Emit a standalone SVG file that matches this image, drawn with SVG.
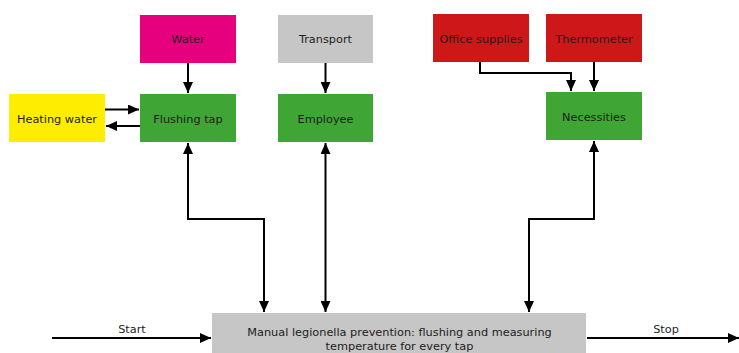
<svg xmlns="http://www.w3.org/2000/svg" width="739" height="353" viewBox="0 0 739 353">
  <defs>
    <marker id="arrow" markerUnits="userSpaceOnUse" markerWidth="12" markerHeight="10" viewBox="0 0 12 10" refX="11" refY="5" orient="auto-start-reverse">
      <path d="M0,0 L11,5 L0,10 Z" fill="#000"/>
    </marker>
    <style>
      .box { stroke: none; }
      .pink { fill: #e6007e; }
      .grey { fill: #c6c6c6; }
      .yellow { fill: #ffed00; }
      .green { fill: #3fa535; }
      .red { fill: #cd1719; }
      .label { font-family: "DejaVu Sans", Verdana, sans-serif; font-size: 11.3px; fill: #1d1d1b; text-anchor: middle; }
      .conn { fill: none; stroke: #000; stroke-width: 2; }
    </style>
  </defs>
  <rect width="739" height="353" fill="#fff"/>

  <g id="water">
    <rect class="box pink" x="140" y="15" width="96" height="48"/>
    <text class="label" x="188" y="43">Water</text>
  </g>
  <g id="transport">
    <rect class="box grey" x="278" y="15" width="95" height="48"/>
    <text class="label" x="325.5" y="43">Transport</text>
  </g>
  <g id="heating-water">
    <rect class="box yellow" x="9" y="94" width="96" height="48"/>
    <text class="label" x="57" y="122.5">Heating water</text>
  </g>
  <g id="flushing-tap">
    <rect class="box green" x="140" y="94" width="96" height="48"/>
    <text class="label" x="188" y="122.5">Flushing tap</text>
  </g>
  <g id="employee">
    <rect class="box green" x="278" y="94" width="95" height="48"/>
    <text class="label" x="325.5" y="122.5">Employee</text>
  </g>
  <g id="office-supplies">
    <rect class="box red" x="433" y="14" width="96" height="48"/>
    <text class="label" x="481" y="42.5">Office supplies</text>
  </g>
  <g id="thermometer">
    <rect class="box red" x="546" y="14" width="96" height="48"/>
    <text class="label" x="594" y="42.5">Thermometer</text>
  </g>
  <g id="necessities">
    <rect class="box green" x="546" y="92" width="96" height="48"/>
    <text class="label" x="594" y="121">Necessities</text>
  </g>
  <g id="process">
    <rect class="box grey" x="212" y="313" width="374" height="40"/>
    <text class="label" x="399.5" y="336">Manual legionella prevention: flushing and measuring</text>
    <text class="label" x="399.5" y="349.5">temperature for every tap</text>
  </g>

  <g id="connectors">
    <path class="conn" d="M188,63 V93" marker-end="url(#arrow)"/>
    <path class="conn" d="M325.5,63 V93" marker-end="url(#arrow)"/>
    <path class="conn" d="M105,109.5 H139" marker-end="url(#arrow)"/>
    <path class="conn" d="M140,126 H106" marker-end="url(#arrow)"/>
    <path class="conn" d="M480,62 V73 H571 V91" marker-end="url(#arrow)"/>
    <path class="conn" d="M594,62 V91" marker-end="url(#arrow)"/>
    <path class="conn" d="M188,143 V219 H264 V312" marker-start="url(#arrow)" marker-end="url(#arrow)"/>
    <path class="conn" d="M325.5,143 V312" marker-start="url(#arrow)" marker-end="url(#arrow)"/>
    <path class="conn" d="M594,141 V219 H529 V312" marker-start="url(#arrow)" marker-end="url(#arrow)"/>
    <path class="conn" d="M52,338 H211" marker-end="url(#arrow)"/>
    <path class="conn" d="M587,338 H739" marker-end="url(#arrow)"/>
    <text class="label" x="132" y="333">Start</text>
    <text class="label" x="666" y="333">Stop</text>
  </g>
</svg>
